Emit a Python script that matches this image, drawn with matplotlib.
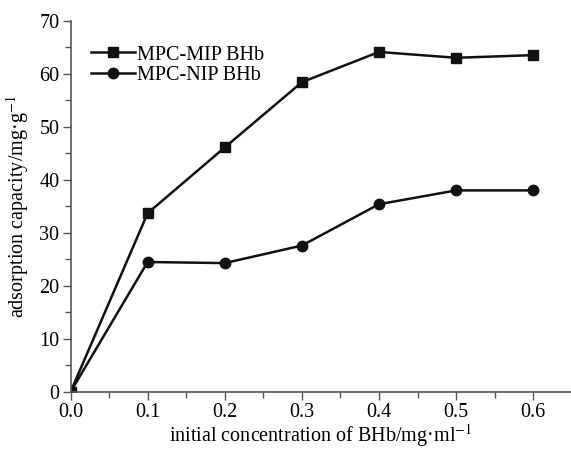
import matplotlib
matplotlib.use('Agg')
import matplotlib.pyplot as plt
from matplotlib.ticker import FixedLocator, MultipleLocator

# data
conc = [0.0, 0.1, 0.2, 0.3, 0.4, 0.5, 0.6]
mip_bhb = [0.0, 33.7, 46.1, 58.4, 64.1, 63.0, 63.5]
nip_bhb = [0.0, 24.5, 24.3, 27.6, 35.4, 38.0, 38.0]
x_ticks = [0.0, 0.1, 0.2, 0.3, 0.4, 0.5, 0.6]

plt.rcParams['font.family'] = ['Liberation Serif', 'DejaVu Serif']
plt.rcParams['mathtext.fontset'] = 'stix'

fig = plt.figure(figsize=(5.71, 4.49), dpi=100)
ax = fig.add_axes([0.1235, 0.127, 0.8765, 0.827])

ax.plot(conc, mip_bhb, color='#111111', lw=1.8, marker='s', ms=6.5, label='MPC-MIP BHb')
ax.plot(conc, nip_bhb, color='#111111', lw=1.8, marker='o', ms=7.5, label='MPC-NIP BHb')

ax.set_xlim(0, 0.649)
ax.set_ylim(0, 70)
ax.xaxis.set_major_locator(FixedLocator(x_ticks))
ax.xaxis.set_minor_locator(FixedLocator([0.05, 0.15, 0.25, 0.35, 0.45, 0.55]))
ax.yaxis.set_major_locator(MultipleLocator(10))
ax.yaxis.set_minor_locator(MultipleLocator(5))
ax.xaxis.set_major_formatter(plt.FormatStrFormatter('%.1f'))

for side in ['top', 'right']:
    ax.spines[side].set_visible(False)
for side in ['left', 'bottom']:
    ax.spines[side].set_color('#555555')
    ax.spines[side].set_linewidth(1.2)

ax.tick_params(which='major', direction='out', length=6, width=1, color='#555555', labelsize=14.5, pad=2)
ax.tick_params(which='minor', direction='out', length=4, width=1, color='#555555')

ax.set_xlabel('initial concentration of BHb/mg·ml$^{-1}$', fontsize=14.5, labelpad=0)
ax.xaxis.set_label_coords(0.5, -0.08)
ax.xaxis.label.set_va('top')
ax.set_ylabel('adsorption capacity/mg·g$^{-1}$', fontsize=14.5, labelpad=6)

ax.legend(loc='upper left', bbox_to_anchor=(0.025, 0.955), frameon=False, fontsize=14.5,
          handlelength=2.2, handletextpad=0.1, labelspacing=0.05, borderaxespad=0)

fig.savefig('out.png', dpi=100)
